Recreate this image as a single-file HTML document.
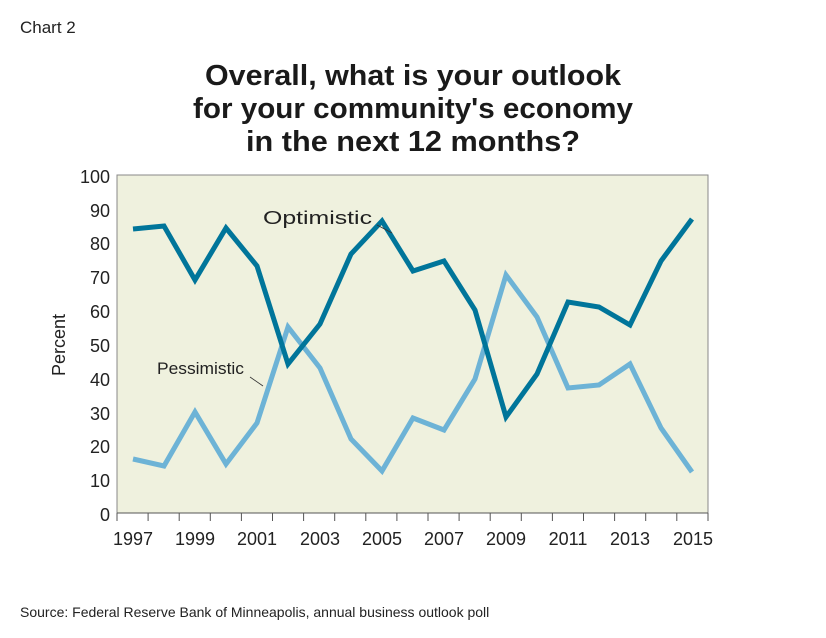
<!DOCTYPE html>
<html><head><meta charset="utf-8"><style>
body{margin:0;background:#fff;}
svg{display:block;font-family:"Liberation Sans",sans-serif;}
</style></head><body>
<svg width="826" height="638" viewBox="0 0 826 638">
<text x="20" y="33" font-size="17" fill="#222">Chart 2</text>
<g font-size="29" font-weight="bold" fill="#1a1a1a" text-anchor="middle">
<text x="413" y="85" textLength="416" lengthAdjust="spacingAndGlyphs">Overall, what is your outlook</text>
<text x="413" y="118" textLength="440" lengthAdjust="spacingAndGlyphs">for your community's economy</text>
<text x="413" y="151" textLength="334" lengthAdjust="spacingAndGlyphs">in the next 12 months?</text>
</g>
<rect x="117" y="175" width="591" height="338" fill="#eff1de" stroke="#888" stroke-width="1"/>
<g stroke="#555" stroke-width="1">
<line x1="117" y1="513" x2="708" y2="513"/>
<path d="M117 513v8M148.1 513v8M179.2 513v8M210.3 513v8M241.4 513v8M272.5 513v8M303.6 513v8M334.7 513v8M365.8 513v8M396.9 513v8M428 513v8M459.1 513v8M490.2 513v8M521.3 513v8M552.4 513v8M583.5 513v8M614.6 513v8M645.7 513v8M676.8 513v8M708 513v8"/>
</g>
<g font-size="18" fill="#222" text-anchor="end">
<text x="110" y="521">0</text><text x="110" y="487">10</text><text x="110" y="453">20</text><text x="110" y="420">30</text><text x="110" y="386">40</text><text x="110" y="352">50</text><text x="110" y="318">60</text><text x="110" y="284">70</text><text x="110" y="250">80</text><text x="110" y="217">90</text><text x="110" y="183">100</text>
</g>
<g font-size="18" fill="#222" text-anchor="middle">
<text x="133" y="545">1997</text><text x="195" y="545">1999</text><text x="257" y="545">2001</text><text x="320" y="545">2003</text><text x="382" y="545">2005</text><text x="444" y="545">2007</text><text x="506" y="545">2009</text><text x="568" y="545">2011</text><text x="630" y="545">2013</text><text x="693" y="545">2015</text>
</g>
<text transform="translate(65 345) rotate(-90)" font-size="18" fill="#222" text-anchor="middle">Percent</text>
<polyline fill="none" stroke="#6db3d6" stroke-width="5" stroke-linejoin="miter" points="133,459 164,466 195,412 226,464 257,423 288,327 320,368 351,439 382,471 413,418 444,430 475,379 506,275 537,317 568,388 599,385 630,364 661,428 692,472"/>
<polyline fill="none" stroke="#00759a" stroke-width="5" stroke-linejoin="miter" points="133,229 164,226 195,280 226,228 257,266 288,364 320,324 351,254 382,221 413,271 444,261 475,310 506,417 537,374 568,302 599,307 630,325 661,261 692,219"/>
<g fill="#222">
<text x="263" y="224" font-size="18" textLength="109" lengthAdjust="spacingAndGlyphs">Optimistic</text>
<text x="157" y="374" font-size="17" textLength="87" lengthAdjust="spacingAndGlyphs">Pessimistic</text>
</g>
<g stroke="#333" stroke-width="0.8">
<line x1="377" y1="225" x2="392" y2="233"/>
<line x1="250" y1="377" x2="263" y2="386"/>
</g>
<text x="20" y="617" font-size="14" fill="#222">Source: Federal Reserve Bank of Minneapolis, annual business outlook poll</text>
</svg>
</body></html>
